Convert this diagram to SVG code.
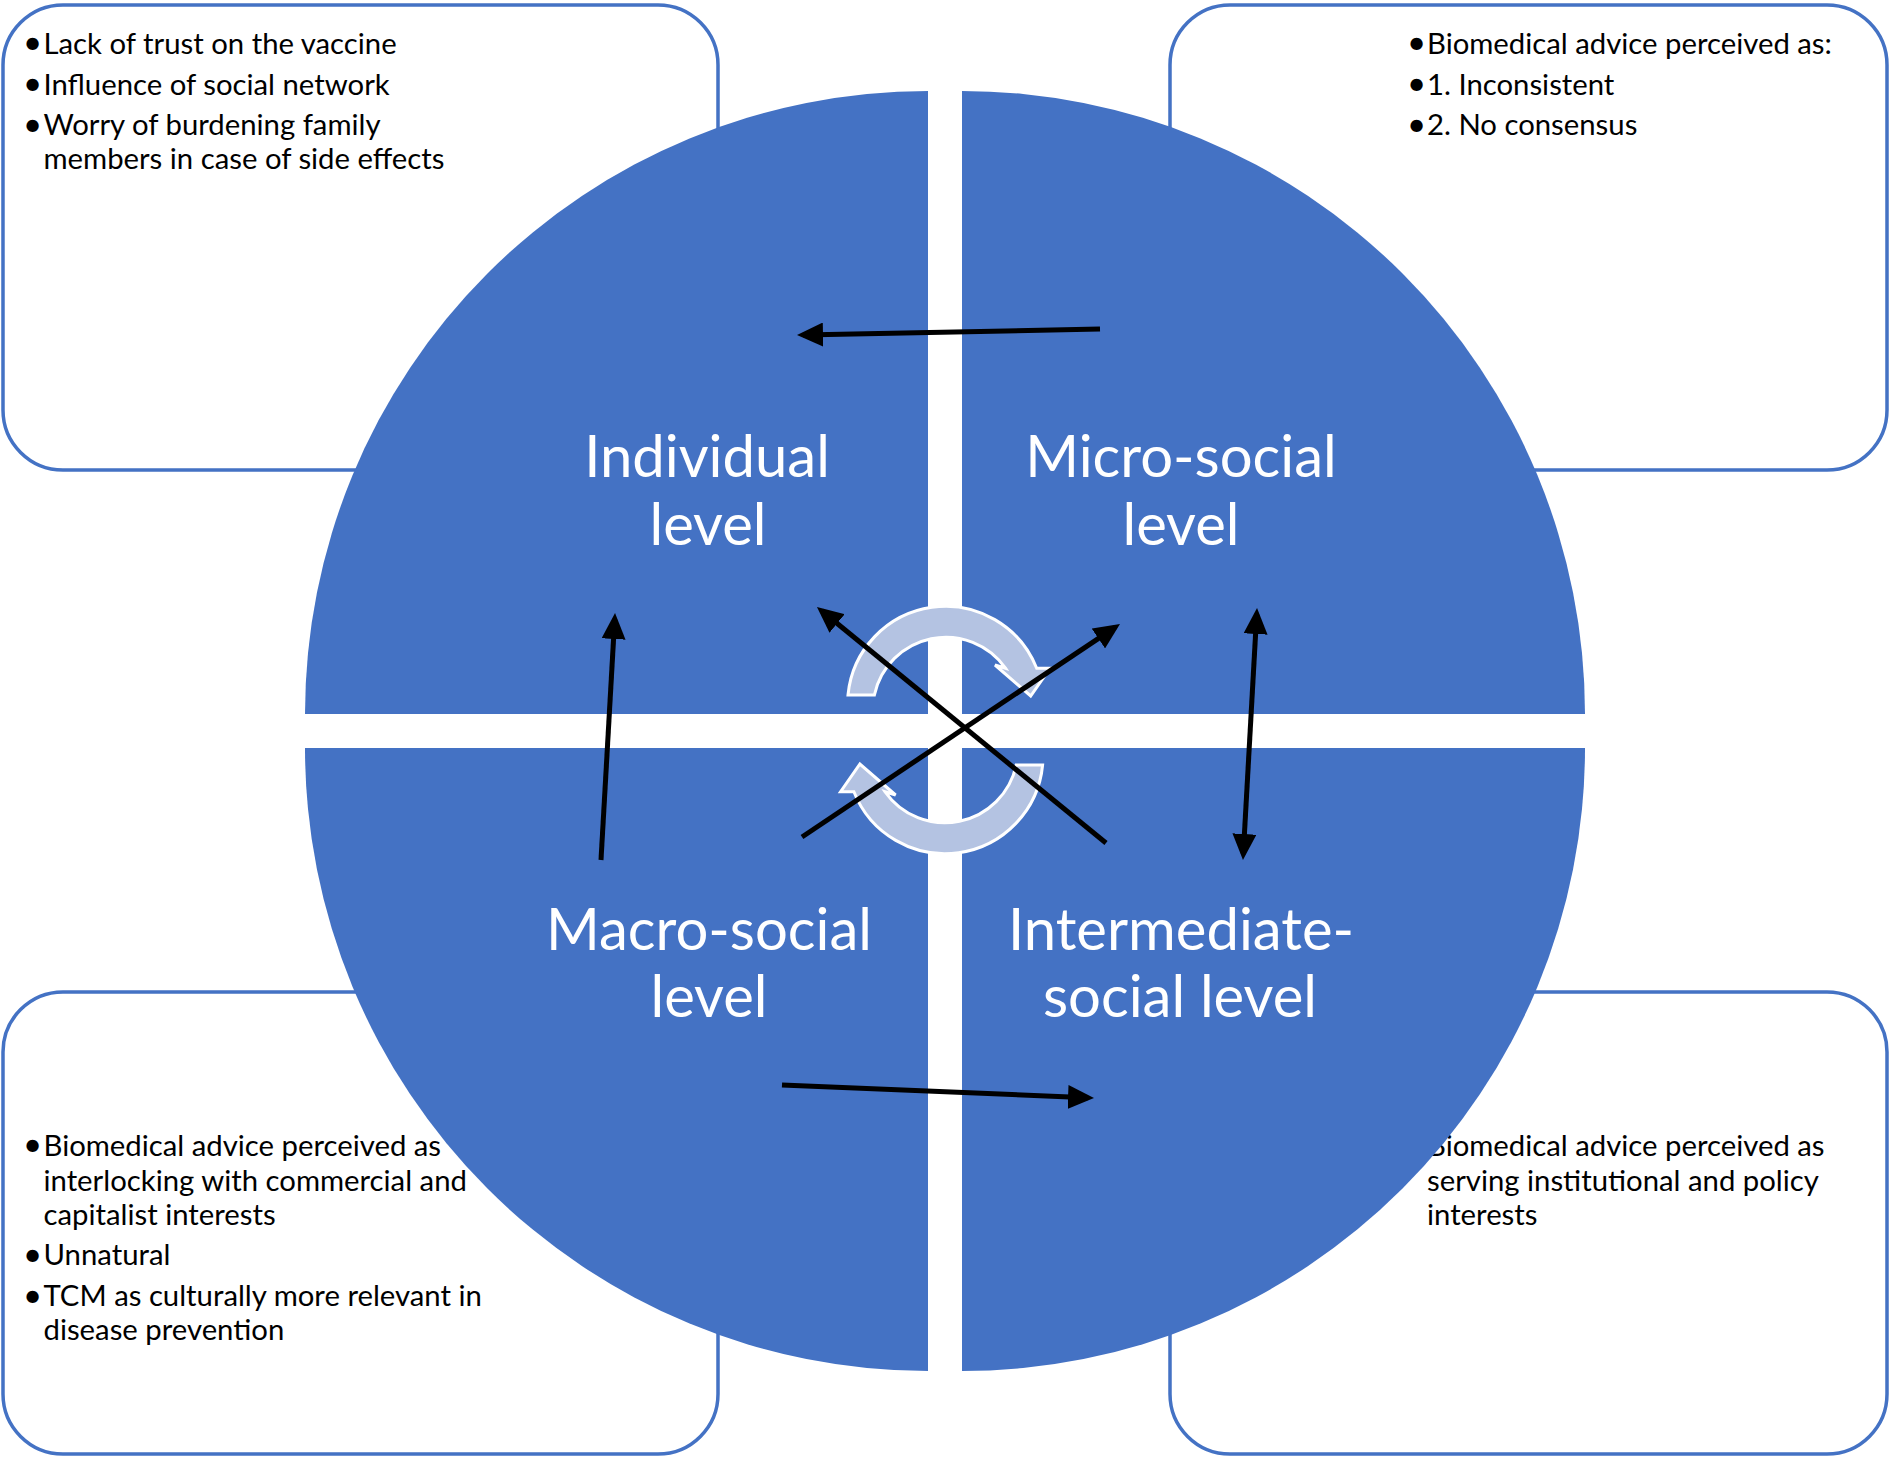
<svg xmlns="http://www.w3.org/2000/svg" width="1892" height="1458" viewBox="0 0 1892 1458">
<style>
.box{fill:#FFFFFF;stroke:#4472C4;stroke-width:3.5}
.q{fill:#4472C4}
.t{font-family:Lato,"Liberation Sans",sans-serif;font-size:29.3px;fill:#000000}
.b{font-family:Lato,"Liberation Sans",sans-serif;font-size:33px;fill:#000000}
.lbl{font-family:Lato,"Liberation Sans",sans-serif;font-size:58px;fill:#FFFFFF;text-anchor:middle}
.circ{fill:#B4C3E2;stroke:#FFFFFF;stroke-width:3;stroke-linejoin:miter}
.con{stroke:#000000;stroke-width:5;fill:none}
</style>
<defs>
<marker id="ah" markerUnits="userSpaceOnUse" markerWidth="26" markerHeight="24" refX="20" refY="12" orient="auto-start-reverse" viewBox="0 0 26 24">
<path d="M0,0 L26,12 L0,24 z" fill="#000000"/>
</marker>
</defs>
<rect width="1892" height="1458" fill="#FFFFFF"/>
<g id="box-individual">
<rect class="box" x="3" y="5" width="715" height="465" rx="60" ry="60"/>
<text class="b" x="23" y="54">•</text><text class="t" x="43.5" y="53.5">Lack of trust on the vaccine</text>
<text class="b" x="23" y="95">•</text><text class="t" x="43.5" y="94.5">Influence of social network</text>
<text class="b" x="23" y="135.5">•</text><text class="t" x="43.5" y="135">Worry of burdening family</text>
<text class="t" x="43.5" y="168.5">members in case of side effects</text>
</g>
<g id="box-micro">
<rect class="box" x="1170" y="5" width="717" height="465" rx="60" ry="60"/>
<text class="b" x="1407" y="54">•</text><text class="t" x="1427" y="53.5">Biomedical advice perceived as:</text>
<text class="b" x="1407" y="95">•</text><text class="t" x="1427" y="94.5">1. Inconsistent</text>
<text class="b" x="1407" y="135.5">•</text><text class="t" x="1427" y="135">2. No consensus</text>
</g>
<g id="box-macro">
<rect class="box" x="3" y="992" width="715" height="462" rx="60" ry="60"/>
<text class="b" x="23" y="1156">•</text><text class="t" x="43.5" y="1155.5">Biomedical advice perceived as</text>
<text class="t" x="43.5" y="1190.5">interlocking with commercial and</text>
<text class="t" x="43.5" y="1225">capitalist interests</text>
<text class="b" x="23" y="1265.5">•</text><text class="t" x="43.5" y="1265">Unnatural</text>
<text class="b" x="23" y="1306.5">•</text><text class="t" x="43.5" y="1306">TCM as culturally more relevant in</text>
<text class="t" x="43.5" y="1340">disease prevention</text>
</g>
<g id="box-intermediate">
<rect class="box" x="1170" y="992" width="717" height="462" rx="60" ry="60"/>
<text class="b" x="1407" y="1156">•</text><text class="t" x="1427" y="1155.5">Biomedical advice perceived as</text>
<text class="t" x="1427" y="1190.5">serving institutional and policy</text>
<text class="t" x="1427" y="1225">interests</text>
</g>
<g id="node-individual">
<path class="q" d="M928,714 L305,714 A623,623 0 0 1 928,91 Z"/>
<text class="lbl" x="707" y="477">Individual</text>
<text class="lbl" x="708" y="545">level</text>
</g>
<g id="node-micro">
<path class="q" d="M962,714 L962,91 A623,623 0 0 1 1585,714 Z"/>
<text class="lbl" x="1181" y="477">Micro-social</text>
<text class="lbl" x="1181" y="545">level</text>
</g>
<g id="node-macro">
<path class="q" d="M928,748 L928,1371 A623,623 0 0 1 305,748 Z"/>
<text class="lbl" x="709" y="950">Macro-social</text>
<text class="lbl" x="709" y="1017">level</text>
</g>
<g id="node-intermediate">
<path class="q" d="M962,748 L1585,748 A623,623 0 0 1 962,1371 Z"/>
<text class="lbl" x="1181" y="950">Intermediate-</text>
<text class="lbl" x="1180" y="1017">social level</text>
</g>
<g id="cycle">
<path id="cyc-top" class="circ" d="M848,695 A98,98 0 0 1 1036.7,668.3 L1050,668.3 L1030.7,696 L995,665 L1005.5,668.2 A73,73 0 0 0 874.4,695 Z"/>
<path id="cyc-bottom" class="circ" transform="rotate(180 945.3 730)" d="M848,695 A98,98 0 0 1 1036.7,668.3 L1050,668.3 L1030.7,696 L995,665 L1005.5,668.2 A73,73 0 0 0 874.4,695 Z"/>
</g>
<g id="connectors">
<line class="con" x1="1100" y1="329" x2="803" y2="334.9" marker-end="url(#ah)"/>
<line class="con" x1="601" y1="860" x2="614.7" y2="619" marker-end="url(#ah)"/>
<line class="con" x1="1106" y1="843" x2="821.6" y2="610.8" marker-end="url(#ah)"/>
<line class="con" x1="802" y1="837" x2="1115" y2="627.3" marker-end="url(#ah)"/>
<line class="con" x1="1256.7" y1="614" x2="1243.3" y2="854" marker-start="url(#ah)" marker-end="url(#ah)"/>
<line class="con" x1="782" y1="1085" x2="1088" y2="1097.8" marker-end="url(#ah)"/>
</g>
</svg>
